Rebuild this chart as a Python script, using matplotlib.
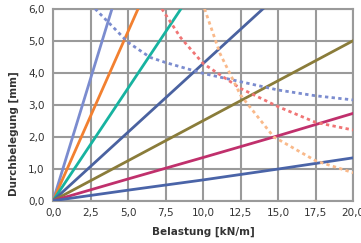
import matplotlib
matplotlib.use("Agg")
import matplotlib.pyplot as plt

# Solid lines (load vs deflection)
x_lb = [0, 3.93]; y_lb = [0, 6.0]
x_or = [0, 5.67]; y_or = [0, 6.0]
x_te = [0, 8.53]; y_te = [0, 6.0]
x_db = [0, 14.0]; y_db = [0, 6.0]
x_ol = [0, 20.0]; y_ol = [0, 5.0]
x_mg = [0, 5, 10, 15, 20]; y_mg = [0, 0.68, 1.35, 2.03, 2.73]
x_bb = [0, 5, 10, 15, 20]; y_bb = [0, 0.33, 0.65, 0.99, 1.34]

# Dotted curves
x_d_blue = [2.8, 5, 6.47, 7.5, 10, 12.5, 15, 17.5, 20]
y_d_blue = [6.0, 4.95, 4.48, 4.32, 3.98, 3.72, 3.46, 3.28, 3.15]
x_d_red = [7.25, 8.5, 10, 12.5, 15, 17.5, 20]
y_d_red = [6.0, 5.1, 4.29, 3.51, 2.94, 2.45, 2.21]
x_d_org = [10.1, 11.13, 12.5, 14.7, 17.5, 20]
y_d_org = [6.0, 4.6, 3.3, 2.0, 1.25, 0.875]

xticks = [0, 2.5, 5, 7.5, 10, 12.5, 15, 17.5, 20]
xticklabels = ["0,0", "2,5", "5,0", "7,5", "10,0", "12,5", "15,0", "17,5", "20,0"]
yticks = [0, 1, 2, 3, 4, 5, 6]
yticklabels = ["0,0", "1,0", "2,0", "3,0", "4,0", "5,0", "6,0"]

fig = plt.figure(figsize=(3.61, 2.43), dpi=100)
ax = fig.add_axes([0.147, 0.174, 0.831, 0.79])
ax.set_xlim(0, 20)
ax.set_ylim(0, 6)

lw = 2.0
ax.plot(x_lb, y_lb, color="#7b8ccf", lw=lw, zorder=3)
ax.plot(x_or, y_or, color="#f28030", lw=lw, zorder=3)
ax.plot(x_te, y_te, color="#17b3a0", lw=lw, zorder=3)
ax.plot(x_db, y_db, color="#4a62a0", lw=lw, zorder=3)
ax.plot(x_ol, y_ol, color="#8a7c3a", lw=lw, zorder=3)
ax.plot(x_mg, y_mg, color="#c0306c", lw=lw, zorder=3)
ax.plot(x_bb, y_bb, color="#4a64a8", lw=lw, zorder=3)

ax.plot(x_d_blue, y_d_blue, color="#7b8ccf", lw=lw, ls=(0, (1.2, 1.2)), zorder=3)
ax.plot(x_d_red, y_d_red, color="#f07575", lw=lw, ls=(0, (1.2, 1.2)), zorder=3)
ax.plot(x_d_org, y_d_org, color="#f9b98a", lw=lw, ls=(0, (1.2, 1.2)), zorder=3)

ax.set_xticks(xticks)
ax.set_xticklabels(xticklabels)
ax.set_yticks(yticks)
ax.set_yticklabels(yticklabels)
ax.tick_params(length=0, labelsize=7.5, colors="#333333", pad=5)
ax.tick_params(axis="y", pad=6)
ax.grid(True, color="#9a9a9a", lw=1.5, zorder=1)
for s in ax.spines.values():
    s.set_color("#9a9a9a")
    s.set_linewidth(1.5)

ax.set_xlabel("Belastung [kN/m]", fontsize=7.5, fontweight="bold", color="#333333")
ax.set_ylabel("Durchbelegung [mm]", fontsize=7.5, fontweight="bold", color="#333333")
ax.xaxis.set_label_coords(0.5, -0.135)
ax.yaxis.set_label_coords(-0.113, 0.35)

fig.savefig("out.png", dpi=100)
